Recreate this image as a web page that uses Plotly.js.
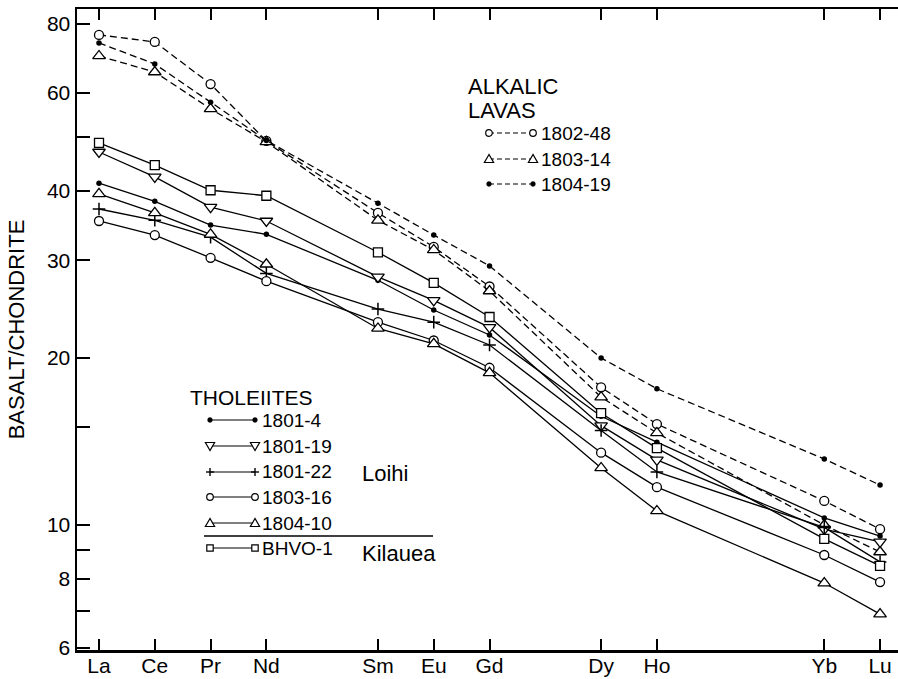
<!DOCTYPE html>
<html><head><meta charset="utf-8">
<script src="https://cdn.plot.ly/plotly-3.0.1.min.js"></script>
<style>html,body{margin:0;padding:0;background:#fff}</style>
</head><body><div id="chart" style="width:898px;height:679px"></div>
<script>
// ---- data ----
const elements = ['La','Ce','Pr','Nd','Sm','Eu','Gd','Dy','Ho','Yb','Lu'];
const atomicNumber = [57,58,59,60,62,63,64,66,67,70,71];

// Alkalic lavas
const s1802_48 = [76.4, 74.2, 62.3, 49.2, 36.5, 31.7, 26.9, 17.7, 15.2, 11.05, 9.83];
const s1803_14 = [70.0, 65.5, 56.2, 49.0, 35.4, 31.3, 26.4, 17.0, 14.65, 10.0, 8.94];
const s1804_19 = [73.9, 67.7, 57.8, 49.3, 38.0, 33.3, 29.3, 20.0, 17.6, 13.15, 11.8];
// Tholeiites
const s1801_4  = [41.3, 38.3, 34.7, 33.4, 27.6, 24.4, 22.0, 15.7, 14.1, 10.3, 9.55];
const s1801_19 = [47.0, 42.4, 37.4, 35.3, 28.0, 25.4, 22.7, 15.1, 13.1, 9.83, 9.32];
const s1801_22 = [37.1, 35.4, 33.0, 28.4, 24.5, 23.2, 21.1, 14.8, 12.46, 9.9, 8.58];
const s1803_16 = [35.3, 33.3, 30.3, 27.5, 23.2, 21.5, 19.2, 13.5, 11.7, 8.83, 7.89];
const s1804_10 = [39.5, 36.5, 33.4, 29.5, 22.6, 21.2, 18.8, 12.67, 10.6, 7.86, 6.91];
const sBHVO_1  = [48.8, 44.5, 40.1, 39.2, 31.0, 27.3, 23.7, 15.9, 13.76, 9.44, 8.44];

const alkalicNames = ['1802-48','1803-14','1804-19'];
const tholeiiteNames = ['1801-4','1801-19','1801-22','1803-16','1804-10','BHVO-1'];

const yTickVals = [6,7,8,9,10,15,20,30,40,50,60,80];
const yTickText = ['6','','8','','10','','20','30','40','','60','80'];
const yTickValsRight = [7,8,9,10,15,20,30,40,50,60,70,80];

// ---- styling ----
const FONT = 'Liberation Sans, Arial, sans-serif';
const DASH = '7px,4px';
const series = [
  {name: alkalicNames[0], y: s1802_48, sym: 'circle', dash: DASH},
  {name: alkalicNames[1], y: s1803_14, sym: 'tri-up', dash: DASH},
  {name: alkalicNames[2], y: s1804_19, sym: 'dot', dash: DASH},
  {name: tholeiiteNames[0], y: s1801_4, sym: 'dot', dash: 'solid'},
  {name: tholeiiteNames[1], y: s1801_19, sym: 'tri-down', dash: 'solid'},
  {name: tholeiiteNames[2], y: s1801_22, sym: 'plus', dash: 'solid'},
  {name: tholeiiteNames[3], y: s1803_16, sym: 'circle', dash: 'solid'},
  {name: tholeiiteNames[4], y: s1804_10, sym: 'tri-up', dash: 'solid'},
  {name: tholeiiteNames[5], y: sBHVO_1, sym: 'square', dash: 'solid'}
];

function markerFor(sym){
  const ol = {color:'black', width:1.3};
  switch(sym){
    case 'circle': return {symbol:'circle', size:9, color:'white', line:ol};
    case 'square': return {symbol:'square', size:9, color:'white', line:ol};
    case 'tri-up': return {symbol:'triangle-up', size:11, color:'white', line:ol};
    case 'tri-down': return {symbol:'triangle-down', size:11, color:'white', line:ol};
    case 'plus': return {symbol:'cross-thin', size:9, color:'black', line:{color:'black', width:1.5}};
    default: return {symbol:'circle', size:5.5, color:'black', line:{width:0}};
  }
}

const traces = series.map(s => ({
  type:'scatter', mode:'lines+markers', name:s.name,
  x: atomicNumber, y: s.y,
  line:{color:'black', width:1.3, dash:s.dash},
  marker: markerFor(s.sym), showlegend:false, hoverinfo:'name+y'
}));

// ---- geometry of the frame (pixels) ----
const W = 898, H = 679, ML = 77, MT = 9, MR = 0, MB = 29;
const PW = W - ML - MR, PH = H - MT - MB;
const fx = p => (p - ML) / PW;
const fy = p => (MT + PH - p) / PH;

const shapes = [], annotations = [];
function lineShape(x0, y0, x1, y1, dash, w){
  shapes.push({type:'line', xref:'paper', yref:'paper', x0:fx(x0), y0:fy(y0), x1:fx(x1), y1:fy(y1),
    line:{color:'black', width:w || 1.3, dash:dash || 'solid'}});
}
function legendMarker(sym, cx, cy){
  const base = {xref:'paper', yref:'paper', line:{color:'black', width:1.2}, fillcolor:'white'};
  if (sym === 'circle'){
    const r = 3.3;
    shapes.push(Object.assign({type:'circle', x0:fx(cx-r), x1:fx(cx+r), y0:fy(cy+r), y1:fy(cy-r)}, base));
  } else if (sym === 'dot'){
    const r = 2.4;
    shapes.push({type:'circle', xref:'paper', yref:'paper', x0:fx(cx-r), x1:fx(cx+r), y0:fy(cy+r), y1:fy(cy-r),
      fillcolor:'black', line:{color:'black', width:0.5}});
  } else if (sym === 'square'){
    const r = 3.2;
    shapes.push(Object.assign({type:'rect', x0:fx(cx-r), x1:fx(cx+r), y0:fy(cy+r), y1:fy(cy-r)}, base));
  } else if (sym === 'tri-up' || sym === 'tri-down'){
    const s = sym === 'tri-up' ? 1 : -1;
    const p = [[cx, cy - 4.5*s], [cx - 4.6, cy + 3.5*s], [cx + 4.6, cy + 3.5*s]];
    const path = 'M' + p.map(q => fx(q[0]) + ',' + fy(q[1])).join(' L') + ' Z';
    shapes.push(Object.assign({type:'path', path:path}, base));
  } else if (sym === 'plus'){
    lineShape(cx-4, cy, cx+4, cy, 'solid', 1.4);
    lineShape(cx, cy-4, cx, cy+4, 'solid', 1.4);
  }
}
function text(t, x, y, size, anchor){
  annotations.push({xref:'paper', yref:'paper', x:fx(x), y:fy(y), text:t, showarrow:false,
    xanchor:anchor || 'left', yanchor:'middle', font:{family:FONT, size:size, color:'black'}});
}
function legendRow(s, x0, x1, cy, labelX){
  lineShape(x0, cy, x1, cy, s.dash === 'solid' ? 'solid' : '5px,3px', 1.2);
  legendMarker(s.sym, x0, cy);
  legendMarker(s.sym, x1, cy);
  text(s.name, labelX, cy, 19);
}

// Alkalic legend
text('ALKALIC', 466, 86, 22);
text('LAVAS', 466, 110, 22);
[133, 159, 184].forEach((cy, i) => legendRow(series[i], 489, 533, cy, 539));
// Tholeiite legend
text('THOLEIITES', 188, 397, 21);
[420, 446, 472, 497, 523, 548].forEach((cy, i) => legendRow(series[3 + i], 210, 255, cy, 260));
lineShape(204, 536, 433, 536, 'solid', 1.5);
text('Loihi', 360, 473, 22);
text('Kilauea', 360, 553, 22);

// ---- layout ----
const xr = [57 - 22/55.79, 57 - 22/55.79 + PW/55.79];
const yr = [1 + (525 - (MT + PH))/555, 1 + (525 - MT)/555];

const layout = {
  width: W, height: H,
  margin: {l: ML, r: MR, t: MT, b: MB, pad: 0},
  paper_bgcolor: 'white', plot_bgcolor: 'white',
  font: {family: FONT, color: 'black', size: 21},
  showlegend: false,
  xaxis: {
    range: xr, tickmode: 'array', tickvals: atomicNumber, ticktext: elements,
    ticks: 'inside', ticklen: 11, tickwidth: 2, tickcolor: 'black', ticklabelstandoff: -5,
    showline: true, linewidth: 2.5, linecolor: 'black', mirror: 'ticks',
    showgrid: false, zeroline: false, tickfont: {size: 21}, fixedrange: true
  },
  yaxis: {
    type: 'log', range: yr, tickmode: 'array', tickvals: yTickVals, ticktext: yTickText,
    ticks: 'inside', ticklen: 13, tickwidth: 2, tickcolor: 'black',
    showline: true, linewidth: 2.5, linecolor: 'black', mirror: false,
    showgrid: false, zeroline: false, tickfont: {size: 21},
    title: {text: 'BASALT/CHONDRITE', font: {size: 22}, standoff: 16}, fixedrange: true
  },
  yaxis2: {
    type: 'log', range: yr, overlaying: 'y', side: 'right', anchor: 'x',
    tickmode: 'array', tickvals: yTickValsRight, showticklabels: false,
    ticks: 'inside', ticklen: 10, tickwidth: 2, tickcolor: 'black',
    showline: false, showgrid: false, zeroline: false, fixedrange: true
  },
  shapes: shapes,
  annotations: annotations
};

Plotly.newPlot('chart', traces, layout, {displayModeBar: false, staticPlot: true});
</script></body></html>
